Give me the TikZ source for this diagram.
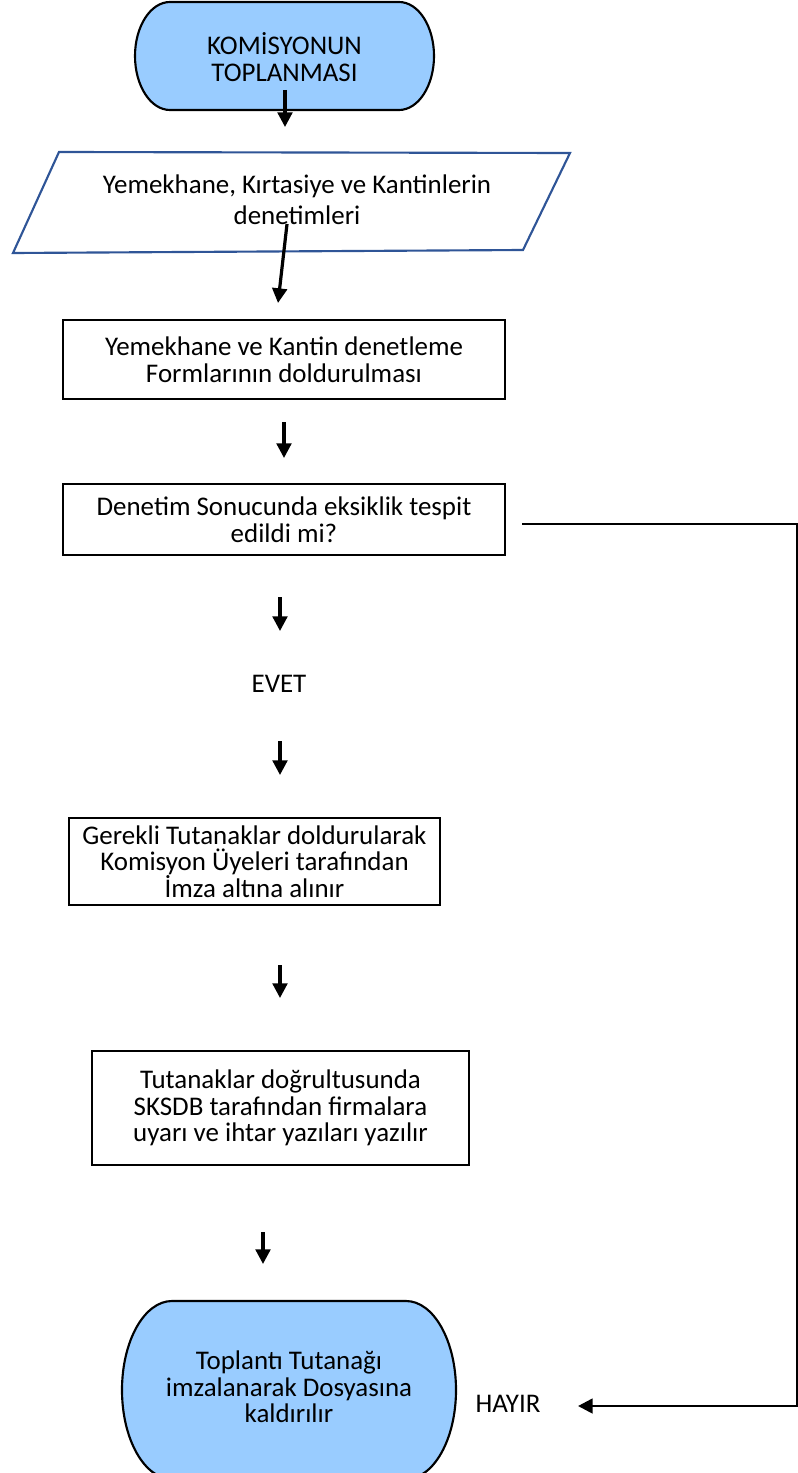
\documentclass[tikz,border=0pt]{standalone}
\usepackage{fontspec}
\setmainfont{Carlito}
\usetikzlibrary{arrows.meta}
\definecolor{termblue}{RGB}{153,204,255}
\definecolor{ioblue}{RGB}{47,85,151}

\begin{document}
\begin{tikzpicture}[x=0.75pt,y=-0.75pt,
		every node/.style = {font=\fontsize{20.2}{20}\selectfont},
		main node/.style = {rectangle,draw,line width=1.6pt,align=center,inner sep=0pt},
		term node/.style = {align=center,inner sep=0pt},
		term line/.style = {draw,line width=1.6pt,fill=termblue},
		flow/.style = {-{Triangle[width=11pt,length=11pt]},line width=2.4pt}]

		\useasboundingbox (0,0) rectangle (798,1473);

		% terminals with half-ellipse ends
		\path[term line] (170,2) -- (399,2) arc[start angle=-90,end angle=90,x radius=35,y radius=54]
			-- (170,110) arc[start angle=90,end angle=270,x radius=35,y radius=54] -- cycle;
		\path[term line] (172,1301) -- (406,1301) arc[start angle=-90,end angle=90,x radius=50,y radius=89]
			-- (172,1479) arc[start angle=90,end angle=270,x radius=50,y radius=89] -- cycle;
		\draw[ioblue,line width=1.6pt] (59,152) -- (570,153) -- (523,250) -- (13,253) -- cycle;

		\node[term node] at (284.5,57) (1) {KOMİSYONUN\\TOPLANMASI};
		\node[align=center,font=\fontsize{20.2}{23}\selectfont] at (297,200) (2) {Yemekhane, Kırtasiye ve Kantinlerin\\denetimleri};
		\node[main node,minimum width=331pt,minimum height=59pt] at (284,359.5) (3) {Yemekhane ve Kantin denetleme\\Formlarının doldurulması};
		\node[main node,minimum width=331pt,minimum height=53pt] at (284,519.5) (4) {Denetim Sonucunda eksiklik tespit\\edildi mi?};
		\node at (279,684) (5) {EVET};
		\node[main node,minimum width=278pt,minimum height=65pt] at (254.5,861.5) (6) {Gerekli Tutanaklar doldurularak\\Komisyon Üyeleri tarafından\\İmza altına alınır};
		\node[main node,minimum width=283pt,minimum height=85.5pt] at (280.5,1108) (7) {Tutanaklar doğrultusunda\\SKSDB tarafından firmalara\\uyarı ve ihtar yazıları yazılır};
		\node[term node] at (289,1387) (8) {Toplantı Tutanağı\\imzalanarak Dosyasına\\kaldırılır};
		\node at (508,1404) (9) {HAYIR};

		\coordinate (a1) at (285,90);   \coordinate (b1) at (285,127);
		\coordinate (a2) at (287,224);  \coordinate (b2) at (278,303);
		\coordinate (a3) at (284,422);  \coordinate (b3) at (284,458);
		\coordinate (a4) at (280,597);  \coordinate (b4) at (280,631);
		\coordinate (a5) at (280,741);  \coordinate (b5) at (280,775);
		\coordinate (a6) at (280,965);  \coordinate (b6) at (280,998);
		\coordinate (a7) at (263,1232); \coordinate (b7) at (263,1264);
		\coordinate (h1) at (522,524);  \coordinate (h2) at (578,1406);

		\foreach \i in {1,...,7}
		\draw[flow] (a\i) -- (b\i);
		\draw[flow,line width=2pt] (h1) -- (797,524) |- (h2);
\end{tikzpicture}
\end{document}
